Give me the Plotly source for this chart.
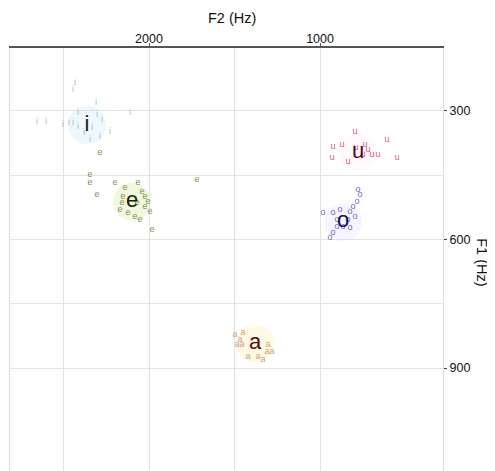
import plotly.graph_objects as go

FONT = "Liberation Sans, Arial, sans-serif"

# individual tokens, F2 / F1 in Hz
i_f2 = [2433, 2444, 2655, 2602, 2503, 2468, 2444, 2415, 2415, 2380, 2345, 2310, 2304, 2275, 2287, 2228, 2111, 2333]
i_f1 = [235, 251, 326, 326, 333, 328, 328, 337, 305, 351, 368, 281, 309, 321, 361, 349, 305, 340]

e_f2 = [2287, 2345, 2345, 2304, 2199, 2140, 2064, 2041, 2023, 2006, 1994, 2152, 2170, 2123, 2082, 2053, 2023, 1982, 1719, 2158, 2070]
e_f1 = [398, 449, 468, 496, 468, 480, 468, 489, 501, 512, 536, 501, 531, 538, 548, 555, 524, 578, 461, 515, 515]

u_f2 = [795, 924, 871, 930, 836, 737, 719, 696, 749, 661, 608, 550, 789]
u_f1 = [349, 384, 379, 410, 419, 379, 391, 403, 403, 403, 368, 410, 386]

o_f2 = [982, 778, 766, 784, 807, 825, 795, 924, 901, 865, 825, 924, 883, 836, 901, 942]
o_f1 = [538, 484, 496, 512, 524, 536, 548, 538, 555, 571, 573, 585, 531, 555, 571, 597]

a_f2 = [1497, 1468, 1485, 1456, 1450, 1304, 1310, 1281, 1421, 1333, 1363]
a_f1 = [823, 835, 846, 846, 818, 846, 863, 863, 874, 881, 874]

# vowel means
vowels = ["i", "e", "u", "o", "a"]
mean_f2 = [2363, 2099, 778, 865, 1380]
mean_f1 = [333, 512, 398, 559, 842]

token_colors = {"i": "#9db8d2", "e": "#7f9254", "u": "#d4587c", "o": "#7d62c4", "a": "#c9a27e"}
mean_colors = {"i": "#1c1c1c", "e": "#142200", "u": "#58001e", "o": "#14104e", "a": "#4e1208"}
halo_colors = {"i": "rgba(190,225,245,0.25)", "e": "rgba(205,235,150,0.3)", "u": "rgba(255,215,230,0.15)",
               "o": "rgba(215,205,255,0.2)", "a": "rgba(255,235,170,0.3)"}

tokens = {"i": (i_f2, i_f1), "e": (e_f2, e_f1), "u": (u_f2, u_f1), "o": (o_f2, o_f1), "a": (a_f2, a_f1)}

fig = go.Figure()

fig.add_trace(go.Scatter(
    x=mean_f2, y=mean_f1, mode="markers", hoverinfo="skip",
    marker=dict(size=38, color=[halo_colors[v] for v in vowels], line=dict(width=0)),
))

for v in vowels:
    f2, f1 = tokens[v]
    fig.add_trace(go.Scatter(
        x=f2, y=f1, mode="text", text=[v] * len(f2),
        textfont=dict(family=FONT, size=9, color=token_colors[v]),
    ))

fig.add_trace(go.Scatter(
    x=mean_f2, y=mean_f1, mode="text", text=vowels,
    textfont=dict(family=FONT, size=22, color=[mean_colors[v] for v in vowels]),
))

# the page body adds an 8px offset, so margins are shifted to compensate
fig.update_layout(
    width=495, height=471,
    margin=dict(l=2, r=60, t=40, b=0),
    paper_bgcolor="white", plot_bgcolor="white",
    showlegend=False,
    font=dict(family=FONT, size=12, color="#111"),
    xaxis=dict(
        side="top", range=[2813, 281], tickvals=[2000, 1000], automargin=False,
        showline=True, linecolor="#555", linewidth=1.5,
        ticks="outside", ticklen=3, tickcolor="#555", ticklabelstandoff=-5,
        showgrid=True, gridcolor="#e3e3e3", gridwidth=1, zeroline=False,
        minor=dict(tickvals=[2500, 1500], showgrid=True, gridcolor="#e3e3e3", ticks=""),
        tickfont=dict(size=12.5),
    ),
    yaxis=dict(
        side="right", range=[1159, 153], tickvals=[300, 600, 900], automargin=False,
        showline=True, mirror=True, linecolor="#dcdcdc", linewidth=1,
        ticks="outside", ticklen=3, tickcolor="#444",
        showgrid=True, gridcolor="#e3e3e3", gridwidth=1, zeroline=False,
        minor=dict(tickvals=[450, 750], showgrid=True, gridcolor="#e3e3e3", ticks=""),
        tickfont=dict(size=12.5),
    ),
    annotations=[
        dict(text="F2 (Hz)", xref="paper", yref="paper", x=0.513, y=1.0696,
             showarrow=False, xanchor="center", yanchor="middle", font=dict(size=14.5)),
        dict(text="F1 (Hz)", xref="paper", yref="paper", x=1.09, y=0.503, textangle=90,
             showarrow=False, xanchor="center", yanchor="middle", font=dict(size=14.5)),
    ],
)

fig.write_html("out.html")
